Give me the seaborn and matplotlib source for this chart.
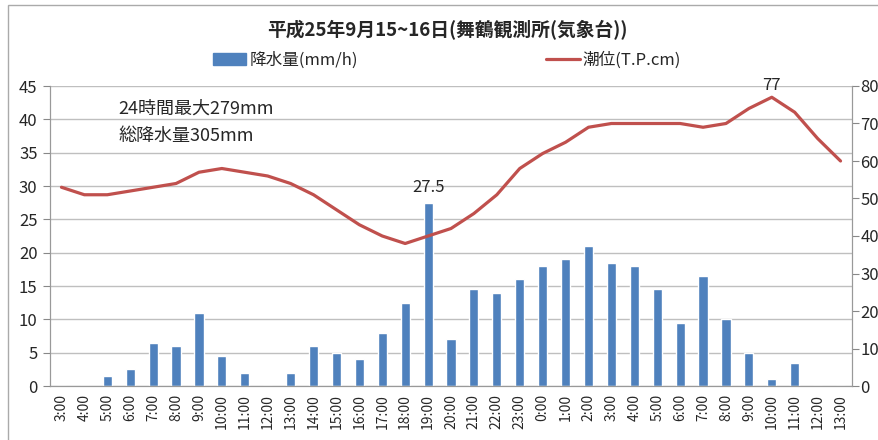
import numpy as np
import matplotlib
matplotlib.use("Agg")
import matplotlib.pyplot as plt
from matplotlib.patches import Patch, Rectangle
from matplotlib.lines import Line2D
import seaborn as sns

# data
hours = ["3:00", "4:00", "5:00", "6:00", "7:00", "8:00", "9:00", "10:00", "11:00",
         "12:00", "13:00", "14:00", "15:00", "16:00", "17:00", "18:00", "19:00",
         "20:00", "21:00", "22:00", "23:00", "0:00", "1:00", "2:00", "3:00", "4:00",
         "5:00", "6:00", "7:00", "8:00", "9:00", "10:00", "11:00", "12:00", "13:00"]
rain = [0, 0, 1.5, 2.5, 6.5, 6, 11, 4.5, 2, 0, 2, 6, 5, 4, 8, 12.5, 27.5,
        7, 14.5, 14, 16, 18, 19, 21, 18.5, 18, 14.5, 9.5, 16.5, 10, 5, 1, 3.5, 0, 0]
tide = [53, 51, 51, 52, 53, 54, 57, 58, 57, 56, 54, 51, 47, 43, 40, 38, 40,
        42, 46, 51, 58, 62, 65, 69, 70, 70, 70, 70, 69, 70, 74, 77, 73, 66, 60]

title = "平成25年9月15~16日(舞鶴観測所(気象台))"
rain_label = "降水量(mm/h)"
tide_label = "潮位(T.P.cm)"
note = "24時間最大279mm\n総降水量305mm"

BLUE = "#4F81BD"
RED = "#C0504D"
GRID = "#BFBFBF"

sns.set_style("white")
plt.rcParams["font.family"] = ["Noto Sans CJK JP", "DejaVu Sans"]

idx = np.arange(len(hours))

fig = plt.figure(figsize=(8.79, 4.4), dpi=100)
ax = fig.add_axes([50 / 879, 54 / 440, 802 / 879, 300 / 440])

# bars
sns.barplot(x=idx, y=rain, color=BLUE, width=0.4, ax=ax, saturation=1)
ax.set_ylim(0, 45)
ax.set_xlim(-0.5, len(hours) - 0.5)
ax.set_yticks(np.arange(0, 46, 5))
ax.yaxis.grid(True, color=GRID, linewidth=1)
ax.set_axisbelow(True)
ax.set_xticks(idx)
ax.set_xticklabels(hours, rotation=90, fontsize=10)
ax.set_xticks(np.arange(-0.5, len(hours), 1), minor=True)
ax.tick_params(axis="x", which="major", length=0, pad=6)
ax.tick_params(axis="x", which="minor", length=5, color="#888888")
ax.tick_params(axis="y", length=5, color="#888888", labelsize=12, pad=4)
ax.set_xlabel("")
ax.set_ylabel("")

# tide line on the second axis
ax2 = ax.twinx()
sns.lineplot(x=idx, y=tide, color=RED, linewidth=2.3, ax=ax2)
ax2.set_ylim(0, 80)
ax2.set_yticks(np.arange(0, 81, 10))
ax2.tick_params(axis="y", length=5, color="#888888", labelsize=12, pad=1)
ax2.set_ylabel("")

for a in (ax, ax2):
    for side, sp in a.spines.items():
        sp.set_color("#999999")
    a.spines["top"].set_visible(False)

# labels on the peaks
ax.annotate("27.5", (16, 27.5), xytext=(0, 5), textcoords="offset points",
            ha="center", va="bottom", fontsize=12)
ax2.annotate("77", (31, 77), xytext=(0, 2), textcoords="offset points",
             ha="center", va="bottom", fontsize=12)

ax.text(0.085, 0.955, note, transform=ax.transAxes, ha="left", va="top",
        fontsize=13, linespacing=1.65)

fig.text(447 / 879, 1 - 30 / 440, title, ha="center", va="center",
         fontsize=13.5, fontweight="bold")

handles = [Patch(facecolor=BLUE, edgecolor=BLUE),
           Line2D([0], [0], color=RED, linewidth=2.3)]
fig.legend(handles, [rain_label, tide_label], loc="center",
           bbox_to_anchor=(447 / 879, 1 - 60 / 440), ncol=2, frameon=False,
           fontsize=12, handlelength=2.0, handletextpad=0.2, columnspacing=11.3)

# chart frame
fig.patches.append(Rectangle((8 / 879, -0.1), 1.2, 1.1 - 5 / 440, fill=False,
                             edgecolor="#AAAAAA", linewidth=1,
                             transform=fig.transFigure, figure=fig))

fig.savefig("out.png", dpi=100)
